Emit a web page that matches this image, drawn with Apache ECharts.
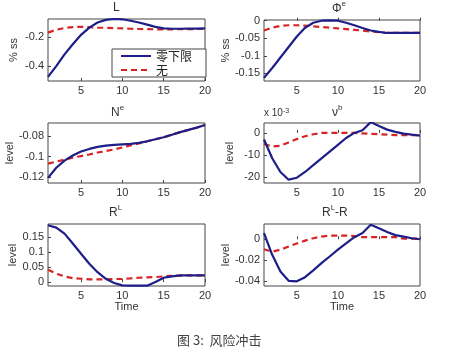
<!DOCTYPE html>
<html>
<head>
<meta charset="utf-8">
<script src="https://cdn.jsdelivr.net/npm/echarts@6/dist/echarts.min.js"></script>
<style>
html,body{margin:0;padding:0;background:#fff;}
#chart{width:451px;height:359px;}
</style>
</head>
<body>
<div id="chart"></div>
<script>
const timeSteps = [1,2,3,4,5,6,7,8,9,10,11,12,13,14,15,16,17,18,19,20];
const xTickLabels = [5,10,15,20];
const seriesNames = ['零下限','无'];
const panelTitles = ['L','Φ^e','N^e','ν^b','R^L','R^L-R'];

// Panel 1: L (% ss)
const L_zlb = [-0.475,-0.40,-0.32,-0.25,-0.185,-0.135,-0.10,-0.082,-0.076,-0.078,-0.088,-0.10,-0.115,-0.13,-0.14,-0.143,-0.143,-0.142,-0.142,-0.141];
const L_none = [-0.17,-0.15,-0.138,-0.132,-0.130,-0.132,-0.135,-0.137,-0.139,-0.141,-0.143,-0.145,-0.146,-0.147,-0.147,-0.147,-0.146,-0.146,-0.145,-0.145];
// Panel 2: Phi^e (% ss)
const Phi_zlb = [-0.163,-0.135,-0.105,-0.075,-0.045,-0.02,-0.006,0,0.001,0,-0.006,-0.013,-0.021,-0.028,-0.032,-0.035,-0.035,-0.035,-0.035,-0.035];
const Phi_none = [-0.028,-0.020,-0.015,-0.013,-0.013,-0.014,-0.016,-0.018,-0.020,-0.022,-0.024,-0.026,-0.028,-0.031,-0.033,-0.035,-0.035,-0.035,-0.035,-0.035];
// Panel 3: N^e (level)
const Ne_zlb = [-0.121,-0.111,-0.104,-0.099,-0.095,-0.0925,-0.0905,-0.0893,-0.0885,-0.088,-0.0875,-0.0865,-0.085,-0.083,-0.081,-0.0785,-0.076,-0.0738,-0.0715,-0.069];
const Ne_none = [-0.107,-0.105,-0.103,-0.101,-0.0995,-0.098,-0.096,-0.0945,-0.093,-0.091,-0.089,-0.087,-0.085,-0.083,-0.081,-0.0785,-0.076,-0.0738,-0.0715,-0.069];
// Panel 4: nu^b (level, x 10^-3)
const nub_zlb = [-3,-11.5,-17.7,-21.2,-20.3,-17.7,-14.6,-11.5,-8.5,-5.4,-2.3,0,1.2,4.9,3.1,1.5,0.5,-0.3,-0.8,-1.2];
const nub_none = [-5,-6.2,-5.8,-4.3,-2.8,-1.5,-0.6,0,0,0,0,0,-0.2,-0.4,-0.6,-0.8,-1.0,-1.0,-1.0,-1.0];
// Panel 5: R^L (level)
const RL_zlb = [0.189,0.181,0.161,0.128,0.094,0.061,0.033,0.011,-0.003,-0.011,-0.012,-0.012,-0.012,0,0.0144,0.019,0.022,0.022,0.022,0.022];
const RL_none = [0.041,0.028,0.019,0.013,0.011,0.009,0.009,0.009,0.010,0.011,0.0125,0.0144,0.0155,0.0167,0.019,0.021,0.0215,0.022,0.022,0.022];
// Panel 6: R^L - R (level)
const RLR_zlb = [0.006,-0.015,-0.031,-0.040,-0.0405,-0.0365,-0.030,-0.023,-0.0166,-0.010,-0.004,0.002,0.006,0.014,0.0105,0.007,0.004,0.0026,0.001,0];
const RLR_none = [-0.0096,-0.012,-0.010,-0.007,-0.004,-0.0013,0.001,0.0026,0.0035,0.0035,0.0035,0.003,0.002,0.002,0.002,0.002,0.002,0.0006,0.0006,0.0006];

const yTickLabels = [
  [-0.4,-0.2],
  [-0.15,-0.1,-0.05,0],
  [-0.12,-0.1,-0.08],
  [-20,-10,0],
  [0,0.05,0.1,0.15],
  [-0.04,-0.02,0]
];
const yRanges = [[-0.503,-0.076],[-0.172,0.002],[-0.126,-0.067],[-22.7,4.5],[-0.013,0.193],[-0.045,0.0147]];
const yNames = ['% ss','% ss','level','level','level','level'];
const panelData = [[L_zlb,L_none],[Phi_zlb,Phi_none],[Ne_zlb,Ne_none],[nub_zlb,nub_none],[RL_zlb,RL_none],[RLR_zlb,RLR_none]];

const gridBoxes = [
  {left:48, top:19, width:157, height:62},
  {left:264, top:20, width:156, height:61},
  {left:48, top:123, width:157, height:60},
  {left:264, top:123, width:156, height:60},
  {left:48, top:224, width:157, height:62},
  {left:264, top:224, width:156, height:62}
];

const BLUE = '#1e1e88';
const RED = '#d62424';
const axisFont = {fontFamily:'Liberation Sans', fontSize:11, color:'#333'};

const grids = gridBoxes.map(g => Object.assign({show:true, borderColor:'#444', borderWidth:1, backgroundColor:'#fff'}, g));
const xAxes = gridBoxes.map((g,i) => ({
  type:'value', gridIndex:i, min:1, max:20,
  axisLine:{show:false}, splitLine:{show:false},
  axisTick:{show:true, inside:true, length:3, lineStyle:{color:'#444'}, customValues:xTickLabels},
  axisLabel:Object.assign({margin:4, customValues:xTickLabels}, axisFont),
  name: i>=4 ? 'Time' : '', nameLocation:'middle', nameGap:9,
  nameTextStyle:axisFont
}));
const yAxes = gridBoxes.map((g,i) => ({
  type:'value', gridIndex:i, min:yRanges[i][0], max:yRanges[i][1],
  axisLine:{show:false}, splitLine:{show:false},
  axisTick:{show:true, inside:true, length:3, lineStyle:{color:'#444'}, customValues:yTickLabels[i]},
  axisLabel:Object.assign({margin:4, customValues:yTickLabels[i]}, axisFont),
  name:yNames[i], nameLocation:'middle', nameRotate:90, nameGap:29,
  nameTextStyle:axisFont
}));

const series = [];
panelData.forEach((pair,i) => {
  series.push({
    name:seriesNames[0], type:'line', xAxisIndex:i, yAxisIndex:i,
    data:timeSteps.map((t,k)=>[t,pair[0][k]]), symbol:'circle', showSymbol:false, smooth:false,
    lineStyle:{color:BLUE, width:2.2}, itemStyle:{color:BLUE}, z:3
  });
  series.push({
    name:seriesNames[1], type:'line', xAxisIndex:i, yAxisIndex:i,
    data:timeSteps.map((t,k)=>[t,pair[1][k]]), symbol:'circle', showSymbol:false, smooth:false,
    lineStyle:{color:RED, width:2.2, type:[6,4]}, itemStyle:{color:RED}, z:2
  });
});

const titleFont = {fontFamily:'Liberation Sans', fontSize:12, fontWeight:'normal', color:'#333'};
const supRich = {
  b:{fontFamily:'Liberation Sans', fontSize:12, color:'#333', lineHeight:15, verticalAlign:'bottom'},
  s:{fontFamily:'Liberation Sans', fontSize:8, color:'#333', lineHeight:10, verticalAlign:'top'}
};
function supTitle(base, sup, left, top) {
  return {text:'{b|'+base+'}{s|'+sup+'}', left:left, top:top, padding:0,
    textStyle:Object.assign({rich:supRich}, titleFont)};
}

const titles = [
  {text:'L', left:113, top:2, padding:0, textStyle:titleFont},
  supTitle('Φ','e',332,0),
  supTitle('N','e',111,104),
  supTitle('ν','b',332,104),
  supTitle('R','L',109,204),
  supTitle('R','L',322,204),
  {text:'x 10{s|-3}', left:264, top:108, padding:0, textStyle:Object.assign({rich:{s:{fontFamily:'Liberation Sans',fontSize:7,color:'#333',verticalAlign:'top',lineHeight:9}}}, titleFont, {fontSize:10})},
  {text:'图 3:  风险冲击', left:177, top:334, padding:0, textStyle:{fontFamily:'Noto Sans CJK SC', fontSize:13, fontWeight:'normal', color:'#444'}}
];
titles[5].text = '{b|R}{s|L}{b|-R}';

const chart = echarts.init(document.getElementById('chart'), null, {renderer:'canvas'});
chart.setOption({
  animation:false,
  backgroundColor:'#fff',
  title:titles,
  legend:{
    data:seriesNames, orient:'vertical', left:112, top:49,
    backgroundColor:'#fff', borderColor:'#444', borderWidth:1,
    padding:[1,14,1,8], itemGap:2, itemWidth:30, itemHeight:14,
    itemStyle:{opacity:0},
    textStyle:{fontFamily:'Noto Sans CJK SC', fontSize:12, color:'#222'}
  },
  grid:grids, xAxis:xAxes, yAxis:yAxes, series:series
});
</script>
</body>
</html>
